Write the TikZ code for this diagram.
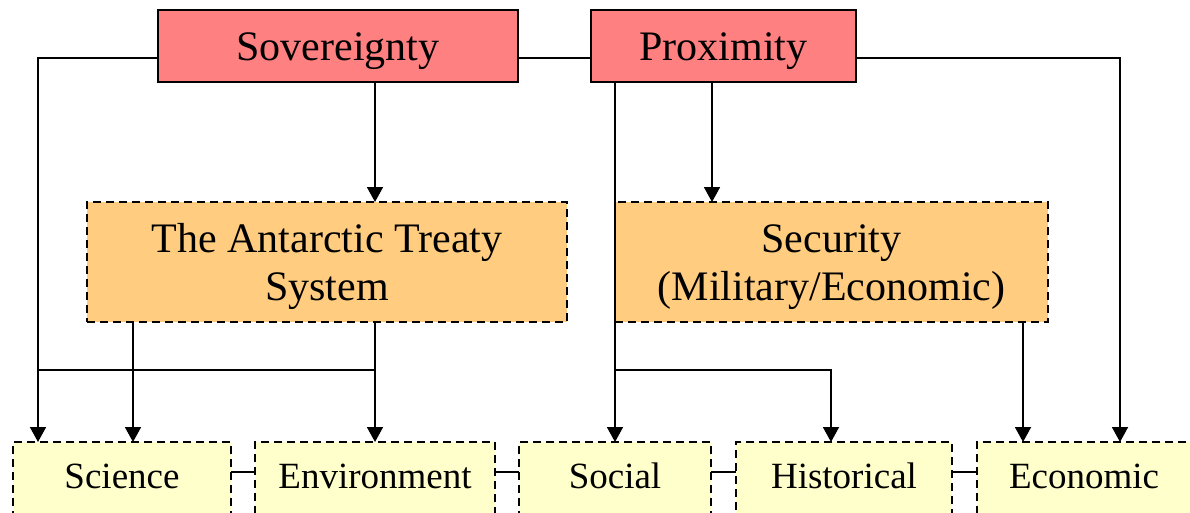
\documentclass[tikz,border=0pt]{standalone}
\usepackage{fontspec}
\setmainfont{Liberation Serif}
\usetikzlibrary{arrows.meta}
\definecolor{topred}{HTML}{FF8080}
\definecolor{midorange}{HTML}{FFCC80}
\definecolor{lowyellow}{HTML}{FFFFCC}
\begin{document}
\begin{tikzpicture}[x=1pt,y=-1pt,
  every node/.style={inner sep=0pt, outer sep=0pt},
  topbox/.style={draw=black, line width=1.8pt, fill=topred,
    text height=50pt, text depth=22pt, anchor=north,
    font=\fontsize{42}{47}\selectfont},
  midbox/.style={draw=black, line width=1.8pt, dash pattern=on 8pt off 5pt,
    fill=midorange, minimum height=120pt},
  midtext/.style={anchor=base, font=\fontsize{42}{47}\selectfont},
  lowbox/.style={draw=black, line width=1.8pt, dash pattern=on 8pt off 5pt,
    fill=lowyellow, text height=46pt, text depth=34pt, anchor=north,
    font=\fontsize{37}{42}\selectfont},
  link/.style={draw=black, line width=1.8pt},
  arr/.style={link, -{Triangle[width=16pt,length=15pt]}}
]
\useasboundingbox (0,0) rectangle (1190,512);
\clip (0,0) rectangle (1190,512);

% top boxes
\node[topbox, minimum width=360pt] (sov) at (338,10) {Sovereignty};
\node[topbox, minimum width=265pt] (prox) at (723.5,10) {Proximity};

% middle boxes
\node[midbox, minimum width=480pt] (ats) at (327,262) {};
\node[midtext] (ats1) at (327,252) {The Antarctic Treaty};
\node[midtext] (ats2) at (327,300) {System};
\node[midbox, minimum width=433pt] (sec) at (831.5,262) {};
\node[midtext] (sec1) at (831.5,252) {Security};
\node[midtext] (sec2) at (831.5,300) {(Military/Economic)};

% bottom boxes
\node[lowbox, minimum width=218pt] (sci) at (122,442) {Science};
\node[lowbox, minimum width=240pt] (env) at (375,442) {Environment};
\node[lowbox, minimum width=192pt] (soc) at (615,442) {Social};
\node[lowbox, minimum width=216pt] (hist) at (844,442) {Historical};
\node[lowbox, minimum width=214pt] (eco) at (1084,442) {Economic};

% junction points
\coordinate (sj) at (38,370);
\coordinate (ej) at (375,370);
\coordinate (pj) at (615,370);

% links among bottom boxes
\draw[link] ([yshift=10pt]sci.east) -- ([yshift=10pt]env.west);
\draw[link] ([yshift=10pt]env.east) -- ([yshift=10pt]soc.west);
\draw[link] ([yshift=10pt]soc.east) -- ([yshift=10pt]hist.west);
\draw[link] ([yshift=10pt]hist.east) -- ([yshift=10pt]eco.west);

% Sovereignty connectors
\draw[link] ([yshift=-12pt]sov.east) -- ([yshift=-12pt]prox.west);
\draw[arr] ([yshift=-12pt]sov.west) -| ([xshift=25pt]sci.north west);
\draw[arr] (sov.south -| env.north) -- (ats.north -| env.north);
\draw[arr] (ats.south -| env.north) -- (env.north);
\draw[arr] ([xshift=46pt]ats.south west) -- ([xshift=46pt]ats.south west |- sci.north);
\draw[link] (sj) -- (ej);

% Proximity connectors
\draw[arr] ([yshift=-12pt]prox.east) -| ([xshift=36pt]eco.north);
\draw[arr] (prox.south -| soc.north) -- (soc.north);
\draw[arr] ([xshift=-11.5pt]prox.south) -- ([xshift=-11.5pt]prox.south |- sec.north);
\draw[arr] (pj) -| ([xshift=-13pt]hist.north);
\draw[arr] ([xshift=-61pt]eco.north |- sec.south) -- ([xshift=-61pt]eco.north);
\end{tikzpicture}
\end{document}
